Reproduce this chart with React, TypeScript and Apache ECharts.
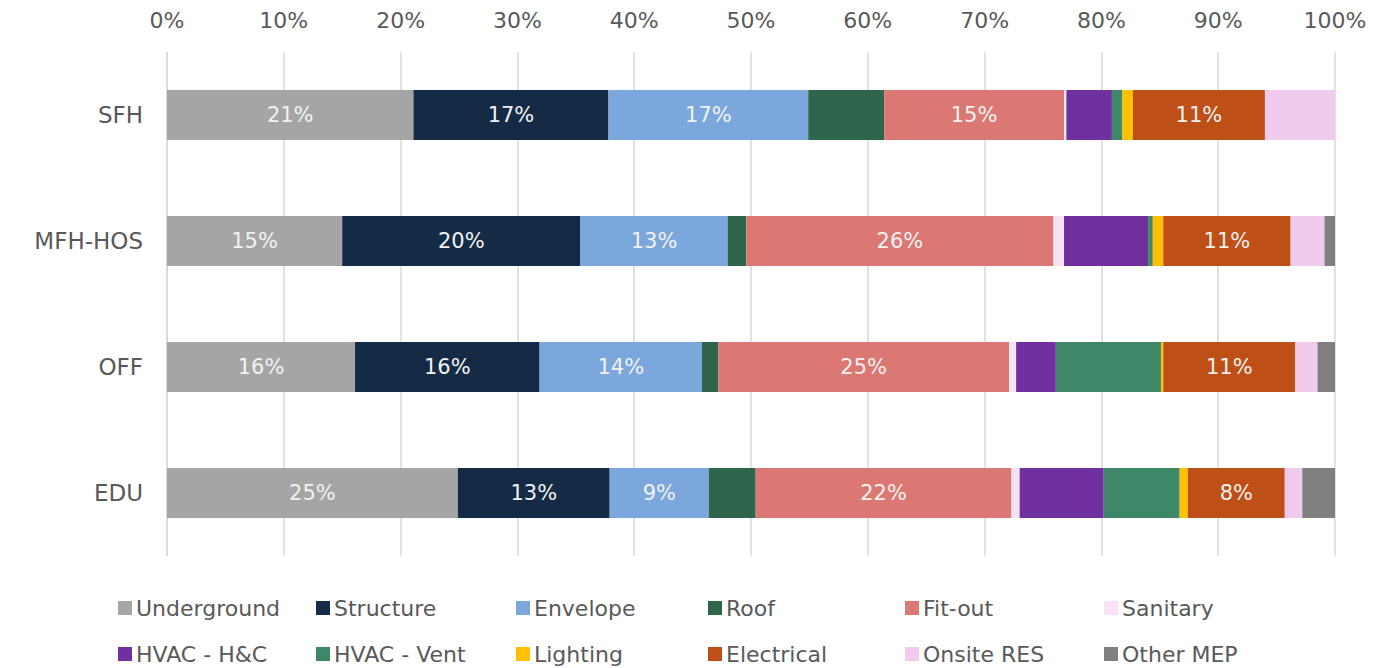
import React, { useEffect, useRef } from "react";
import * as echarts from "echarts";

const categories = ["SFH", "MFH-HOS", "OFF", "EDU"];
const seriesNames = [
  "Underground", "Structure", "Envelope", "Roof", "Fit-out", "Sanitary",
  "HVAC - H&C", "HVAC - Vent", "Lighting", "Electrical", "Onsite RES", "Other MEP",
];
// values per category in order SFH, MFH-HOS, OFF, EDU (percent)
const underground = [21.1, 15.0, 16.1, 24.9];
const structure = [16.7, 20.4, 15.8, 13.0];
const envelope = [17.1, 12.6, 13.9, 8.5];
const roof = [6.5, 1.6, 1.4, 4.0];
const fitout = [15.4, 26.3, 24.9, 21.9];
const sanitary = [0.2, 0.9, 0.6, 0.7];
const hvacHC = [3.9, 7.2, 3.4, 7.2];
const hvacVent = [0.9, 0.4, 9.0, 6.5];
const lighting = [0.9, 0.9, 0.2, 0.7];
const electrical = [11.3, 10.9, 11.3, 8.3];
const onsiteRES = [6.0, 2.9, 1.9, 1.5];
const otherMEP = [0, 0.9, 1.5, 2.8];
const xTicks = [0, 10, 20, 30, 40, 50, 60, 70, 80, 90, 100];

const seriesValues = [
  underground, structure, envelope, roof, fitout, sanitary,
  hvacHC, hvacVent, lighting, electrical, onsiteRES, otherMEP,
];
const colors = [
  "#a5a5a5", "#142a45", "#7ba7dd", "#2e654c", "#dc7874", "#f8e3f6",
  "#7030a0", "#3e8869", "#ffc000", "#be4f16", "#f0cbed", "#7f7f7f",
];
const labelled = new Set(["Underground", "Structure", "Envelope", "Fit-out", "Electrical"]);

const FONT = "DejaVu Sans";

export default function App() {
  const ref = useRef<HTMLDivElement>(null);
  useEffect(() => {
    if (!ref.current) return;
    const chart = echarts.init(ref.current, undefined, { renderer: "svg" });
    const legendCols = [118, 316, 516, 708, 905, 1104];
    const legendRows = [597, 643];
    const legends = seriesNames.map((n, i) => ({
      data: [n],
      left: legendCols[i % 6],
      top: legendRows[Math.floor(i / 6)],
      icon: "rect",
      itemWidth: 14,
      itemHeight: 14,
      itemGap: 6,
      padding: 0,
      selectedMode: false,
      textStyle: { color: "#595959", fontSize: 22, fontFamily: FONT, padding: [0, 0, 0, -1] },
    }));
    chart.setOption({
      animation: false,
      color: colors,
      textStyle: { fontFamily: FONT },
      grid: { left: 167, right: 58, top: 52, bottom: 112 },
      legend: legends,
      xAxis: {
        type: "value",
        position: "top",
        min: 0,
        max: 100,
        interval: 10,
        axisLine: { show: false },
        axisTick: { show: false },
        splitLine: { show: true, lineStyle: { color: "#d9d9d9", width: 1.5 } },
        axisLabel: {
          color: "#595959",
          fontSize: 22,
          fontFamily: FONT,
          margin: 21,
          formatter: (v: number) => (xTicks.includes(v) ? v + "%" : ""),
        },
      },
      yAxis: {
        type: "category",
        inverse: true,
        data: categories,
        axisLine: { show: true, lineStyle: { color: "#d9d9d9", width: 1.5 } },
        axisTick: { show: false },
        axisLabel: { color: "#595959", fontSize: 23, fontFamily: FONT, margin: 24 },
      },
      series: seriesNames.map((n, i) => ({
        name: n,
        type: "bar",
        stack: "total",
        barWidth: 50,
        data: seriesValues[i],
        itemStyle: { color: colors[i] },
        label: {
          show: labelled.has(n),
          position: "inside",
          color: "#f2f2f2",
          fontSize: 21,
          fontFamily: FONT,
          formatter: (p: any) => Math.round(p.value) + "%",
        },
      })),
    });
    return () => chart.dispose();
  }, []);
  return (
    <div
      ref={ref}
      style={{ position: "fixed", left: 0, top: 0, width: 1393, height: 668, background: "#fff" }}
    />
  );
}
